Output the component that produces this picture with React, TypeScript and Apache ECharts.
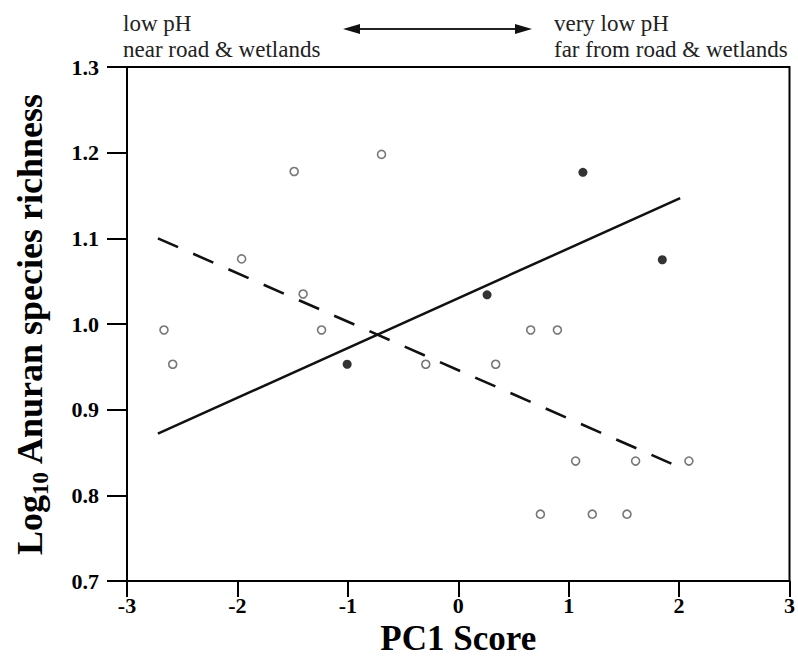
import React, { useEffect, useRef } from "react";
import * as echarts from "echarts";

const xTicks = [-3, -2, -1, 0, 1, 2, 3];
const yTicks = [0.7, 0.8, 0.9, 1.0, 1.1, 1.2, 1.3];

// Open circles: [PC1 score, log10 richness]
const openX = [-2.665, -2.586, -1.962, -1.486, -1.405, -1.238, -0.695, -0.294, 0.339, 0.656, 0.898, 1.063, 1.606, 2.089, 0.744, 1.214, 1.528];
const openY = [0.993, 0.953, 1.076, 1.178, 1.035, 0.993, 1.198, 0.953, 0.953, 0.993, 0.993, 0.840, 0.840, 0.840, 0.778, 0.778, 0.778];

// Filled circles
const filledX = [-1.006, 0.261, 1.129, 1.848];
const filledY = [0.953, 1.034, 1.177, 1.075];

// Regression lines (end points)
const solidX = [-2.72, 2.01];
const solidY = [0.872, 1.147];
const dashedX = [-2.72, 1.93];
const dashedY = [1.10, 0.837];

const leftNotes = ["low pH", "near road & wetlands"];
const rightNotes = ["very low pH", "far from road & wetlands"];

const FONT = "'Liberation Serif', 'Times New Roman', serif";

const zip = (xs: number[], ys: number[]) => xs.map((x, i) => [x, ys[i]]);

export default function App() {
  const ref = useRef<HTMLDivElement>(null);
  useEffect(() => {
    if (!ref.current) return;
    const chart = echarts.init(ref.current, undefined, { renderer: "svg" });
    const noteStyle = { fontFamily: FONT, fontSize: 23, fill: "#222" };
    chart.setOption({
      animation: false,
      backgroundColor: "#fff",
      grid: {
        left: 126,
        right: 8,
        top: 67,
        bottom: 85,
        show: true,
        borderColor: "#000",
        borderWidth: 2,
        backgroundColor: "transparent",
      },
      xAxis: {
        type: "value",
        min: xTicks[0],
        max: xTicks[xTicks.length - 1],
        interval: 1,
        name: "PC1 Score",
        nameLocation: "middle",
        nameGap: 33,
        nameTextStyle: { fontFamily: FONT, fontWeight: "bold", fontSize: 35, color: "#000" },
        axisLine: { show: true, onZero: false, lineStyle: { color: "#000", width: 2 } },
        axisTick: { show: true, inside: false, length: 16, lineStyle: { color: "#000", width: 2 } },
        axisLabel: {
          fontFamily: FONT,
          fontWeight: "bold",
          fontSize: 22,
          color: "#000",
          margin: 13,
          formatter: (v: number) => String(v),
        },
        splitLine: { show: false },
      },
      yAxis: {
        type: "value",
        min: yTicks[0],
        max: yTicks[yTicks.length - 1],
        interval: 0.1,
        name: "{a|Log}{s|10}{a| Anuran species richness}",
        nameLocation: "middle",
        nameGap: 75,
        nameTextStyle: {
          fontFamily: FONT,
          fontWeight: "bold",
          fontSize: 36,
          color: "#000",
          rich: {
            a: { fontFamily: FONT, fontWeight: "bold", fontSize: 36, lineHeight: 44, color: "#000" },
            s: {
              fontFamily: FONT,
              fontWeight: "bold",
              fontSize: 23,
              lineHeight: 23,
              verticalAlign: "top",
              padding: [21, 0, 0, 0],
              color: "#000",
            },
          },
        },
        axisLine: { show: true, onZero: false, lineStyle: { color: "#000", width: 2 } },
        axisTick: { show: true, inside: false, length: 20, lineStyle: { color: "#000", width: 2 } },
        axisLabel: {
          fontFamily: FONT,
          fontWeight: "bold",
          fontSize: 22,
          color: "#000",
          margin: 28,
          formatter: (v: number) => v.toFixed(1),
        },
        splitLine: { show: false },
      },
      series: [
        {
          type: "line",
          data: zip(solidX, solidY),
          symbol: "none",
          lineStyle: { color: "#111", width: 2.5, type: "solid" },
          z: 2,
        },
        {
          type: "line",
          data: zip(dashedX, dashedY),
          symbol: "none",
          lineStyle: { color: "#111", width: 2.6, type: [22, 16.5] },
          z: 2,
        },
        {
          type: "scatter",
          data: zip(openX, openY),
          symbol: "circle",
          symbolSize: 8,
          itemStyle: { color: "#fff", borderColor: "#555", borderWidth: 1.6 },
          z: 3,
        },
        {
          type: "scatter",
          data: zip(filledX, filledY),
          symbol: "circle",
          symbolSize: 9,
          itemStyle: { color: "#000" },
          z: 3,
        },
      ],
      graphic: [
        { type: "text", left: 123, top: 12, style: { ...noteStyle, text: leftNotes[0] } },
        { type: "text", left: 123, top: 38, style: { ...noteStyle, text: leftNotes[1] } },
        { type: "text", left: 554, top: 12, style: { ...noteStyle, text: rightNotes[0] } },
        { type: "text", left: 554, top: 38, style: { ...noteStyle, text: rightNotes[1] } },
        {
          type: "line",
          shape: { x1: 352, y1: 29, x2: 522, y2: 29 },
          style: { stroke: "#222", lineWidth: 2 },
        },
        {
          type: "polygon",
          shape: { points: [[343, 29], [360, 24], [360, 34]] },
          style: { fill: "#111" },
        },
        {
          type: "polygon",
          shape: { points: [[532, 29], [515, 24], [515, 34]] },
          style: { fill: "#111" },
        },
      ],
    });
    return () => chart.dispose();
  }, []);
  return (
    <div
      ref={ref}
      style={{ position: "fixed", left: 0, top: 0, width: 798, height: 666 }}
    />
  );
}
